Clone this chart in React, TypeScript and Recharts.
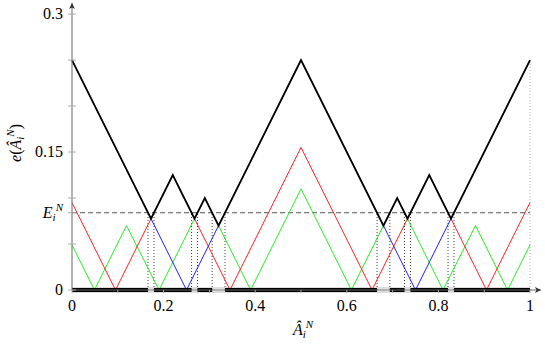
import React from 'react';
import { LineChart, Line, XAxis, YAxis, ReferenceLine, ReferenceDot } from 'recharts';

// ---- data ----
const threshold = 0.084; // E_i^N

const blueX = [0, 0.25, 0.5, 0.75, 1];
const blueY = [0.25, 0, 0.25, 0, 0.25];

const redX = [0, 0.095, 0.22, 0.345, 0.5, 0.655, 0.78, 0.905, 1];
const redY = [0.095, 0, 0.125, 0, 0.155, 0, 0.125, 0, 0.095];

const greenX = [0, 0.049, 0.119, 0.19, 0.29, 0.39, 0.5, 0.61, 0.71, 0.81, 0.881, 0.951, 1];
const greenY = [0.049, 0, 0.07, 0, 0.1, 0, 0.11, 0, 0.1, 0, 0.07, 0, 0.049];

const blackX = [0, 0.1725, 0.22, 0.2675, 0.29, 0.32, 0.5, 0.68, 0.71, 0.7325, 0.78, 0.8275, 1];
const blackY = [0.25, 0.0775, 0.125, 0.0775, 0.1, 0.07, 0.25, 0.07, 0.1, 0.0775, 0.125, 0.0775, 0.25];

// x positions where the envelope crosses E_i^N
const crossings = [0.166, 0.179, 0.261, 0.274, 0.306, 0.334, 0.666, 0.694, 0.726, 0.739, 0.821, 0.834];
// intervals where the envelope is above E_i^N
const barStarts = [0, 0.179, 0.274, 0.334, 0.694, 0.739, 0.834];
const barEnds = [0.166, 0.261, 0.306, 0.666, 0.726, 0.821, 1];

const xTicks = [0, 0.1, 0.2, 0.3, 0.4, 0.5, 0.6, 0.7, 0.8, 0.9, 1];
const xTickLabels = ['0', '', '0.2', '', '0.4', '', '0.6', '', '0.8', '', '1'];
const yTicks = [0, 0.05, 0.1, threshold, 0.15, 0.2, 0.25, 0.3];
const yTickLabels = ['0', '', '', 'E', '0.15', '', '', '0.3'];

// ---- build tables ----
const toPts = (xs: number[], ys: number[]) => xs.map((x, i) => ({ x, y: ys[i] }));
const blueData = toPts(blueX, blueY);
const redData = toPts(redX, redY);
const greenData = toPts(greenX, greenY);
const blackData = toPts(blackX, blackY);
const baseData = [{ x: 0, y: 0 }, { x: 1, y: 0 }];
const barData: { x: number; y: number | null }[] = [];
barStarts.forEach((s, i) => {
  barData.push({ x: s, y: 0 });
  barData.push({ x: barEnds[i], y: 0 });
  if (i < barStarts.length - 1) barData.push({ x: (barEnds[i] + barStarts[i + 1]) / 2, y: null });
});

const FONT = '"Liberation Serif", serif';
const txt: React.CSSProperties = { fontFamily: FONT };

const XTick = (props: any) => {
  const { x, y, payload } = props;
  const idx = xTicks.indexOf(payload.value);
  const label = idx >= 0 ? xTickLabels[idx] : '';
  return (
    <g>
      <line x1={x} x2={x} y1={y} y2={y + 3} stroke="#aaa" strokeWidth={1} />
      {label && (
        <text x={x} y={y + 21} textAnchor="middle" style={txt} fontSize={16} fill="#000">
          {label}
        </text>
      )}
    </g>
  );
};

const YTick = (props: any) => {
  const { x, y, payload } = props;
  const idx = yTicks.indexOf(payload.value);
  const label = idx >= 0 ? yTickLabels[idx] : '';
  return (
    <g>
      <line x1={x - 4} x2={x + 4} y1={y} y2={y} stroke="#aaa" strokeWidth={1} />
      {label === 'E' ? (
        <text x={x - 9} y={y + 5} textAnchor="end" style={txt} fontSize={16} fill="#000">
          <tspan fontStyle="italic">E</tspan>
          <tspan fontStyle="italic" fontSize={11} dy={3}>i</tspan>
          <tspan fontStyle="italic" fontSize={11} dx={0} dy={-10}>N</tspan>
        </text>
      ) : label ? (
        <text x={x - 9} y={y + 5} textAnchor="end" style={txt} fontSize={16} fill="#000">
          {label}
        </text>
      ) : null}
    </g>
  );
};

const YLabel = () => (
  <text
    x={0}
    y={0}
    transform="translate(21,143) rotate(-90)"
    textAnchor="middle"
    style={txt}
    fontSize={16}
    fill="#000"
  >
    <tspan fontStyle="italic">e</tspan>
    <tspan>(</tspan>
    <tspan fontStyle="italic">Â</tspan>
    <tspan fontStyle="italic" fontSize={11} dy={3}>i</tspan>
    <tspan fontStyle="italic" fontSize={11} dx={0} dy={-10}>N</tspan>
    <tspan dy={7}>)</tspan>
  </text>
);

const XLabel = () => (
  <text x={303} y={335} textAnchor="middle" style={txt} fontSize={16} fill="#000">
    <tspan fontStyle="italic">Â</tspan>
    <tspan fontStyle="italic" fontSize={11} dy={3}>i</tspan>
    <tspan fontStyle="italic" fontSize={11} dx={0} dy={-10}>N</tspan>
  </text>
);

const ArrowUp = (props: any) => {
  const { cx, cy } = props;
  return <path d={`M ${cx} ${cy} L ${cx - 3} ${cy + 6} L ${cx} ${cy + 4.5} L ${cx + 3} ${cy + 6} Z`} fill="#333" />;
};
const ArrowRight = (props: any) => {
  const { cx, cy } = props;
  return <path d={`M ${cx} ${cy} L ${cx - 6} ${cy - 3} L ${cx - 4.5} ${cy} L ${cx - 6} ${cy + 3} Z`} fill="#333" />;
};

export default function App() {
  return (
    <div style={{ position: 'absolute', left: 0, top: 0 }}>
      <LineChart
        width={545}
        height={346}
        margin={{ top: 3, right: 4, bottom: 26, left: 12 }}
        style={{ fontFamily: FONT }}
      >
        <XAxis
          type="number"
          dataKey="x"
          domain={[0, 1.024]}
          ticks={xTicks}
          interval={0}
          tickSize={0}
          tickMargin={0}
          tickLine={false}
          tick={<XTick />}
          height={30}
          axisLine={{ stroke: '#666', strokeWidth: 1 }}
          label={<XLabel />}
        />
        <YAxis
          type="number"
          dataKey="y"
          domain={[0, 0.312]}
          ticks={yTicks}
          interval={0}
          tickSize={0}
          tickMargin={0}
          tickLine={false}
          tick={<YTick />}
          width={60}
          axisLine={{ stroke: '#666', strokeWidth: 1 }}
          label={<YLabel />}
        />
        <Line data={baseData} dataKey="y" stroke="#bbb" strokeWidth={5} dot={false} activeDot={false} isAnimationActive={false} />
        <Line data={baseData} dataKey="y" stroke="#fff" strokeWidth={3} dot={false} activeDot={false} isAnimationActive={false} />
        <ReferenceLine segment={[{ x: 0, y: threshold }, { x: 1, y: threshold }]} stroke="#555" strokeDasharray="5 3" strokeWidth={1} />
        {crossings.map((c) => (
          <ReferenceLine key={c} segment={[{ x: c, y: 0 }, { x: c, y: threshold }]} stroke="#444" strokeDasharray="1 2" strokeWidth={1} />
        ))}
        <ReferenceLine segment={[{ x: 1, y: 0 }, { x: 1, y: 0.25 }]} stroke="#aaa" strokeDasharray="1 2" strokeWidth={1} />
        <Line data={greenData} dataKey="y" stroke="#22ee22" strokeWidth={1} dot={false} activeDot={false} isAnimationActive={false} />
        <Line data={redData} dataKey="y" stroke="#ff2020" strokeWidth={1} dot={false} activeDot={false} isAnimationActive={false} />
        <Line data={blueData} dataKey="y" stroke="#2020ff" strokeWidth={1} dot={false} activeDot={false} isAnimationActive={false} />
        <Line data={blackData} dataKey="y" stroke="#000" strokeWidth={1.8} dot={false} activeDot={false} isAnimationActive={false} />
        <Line data={barData} dataKey="y" stroke="#000" strokeWidth={4} strokeLinecap="butt" connectNulls={false} dot={false} activeDot={false} isAnimationActive={false} />
        <ReferenceDot x={0} y={0.312} r={0} shape={<ArrowUp />} />
        <ReferenceDot x={1.024} y={0} r={0} shape={<ArrowRight />} />
      </LineChart>
    </div>
  );
}
